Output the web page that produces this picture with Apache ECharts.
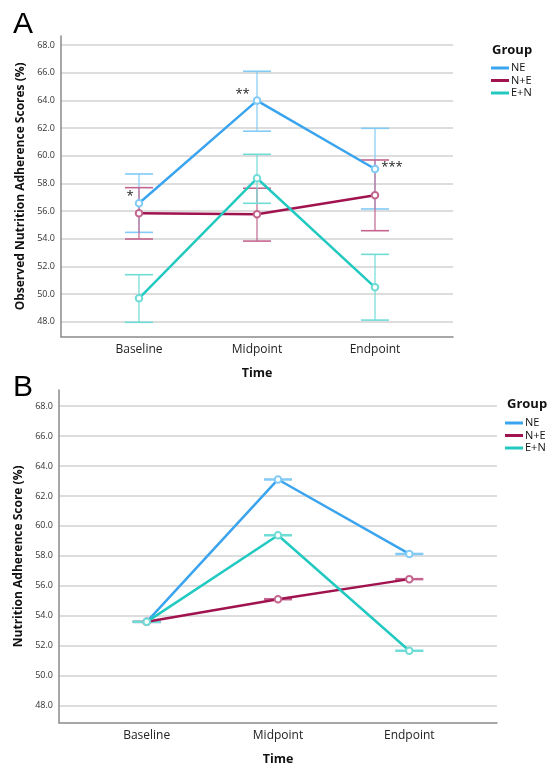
<!DOCTYPE html>
<html>
<head>
<meta charset="utf-8">
<script src="https://cdn.jsdelivr.net/npm/echarts@6/dist/echarts.min.js"></script>
<style>
  html, body { margin: 0; padding: 0; background: #fff; }
  #chart { width: 550px; height: 770px; }
</style>
</head>
<body>
<div id="chart"></div>
<script>
// categories and groups
const timePoints = ['Baseline', 'Midpoint', 'Endpoint'];
const groups = ['NE', 'N+E', 'E+N'];
const yTicks = [48, 50, 52, 54, 56, 58, 60, 62, 64, 66, 68];
const xTicks = [0, 1, 2];

// panel A: observed scores, mean and error bar ends
const obsNE = [56.56, 63.98, 59.04];
const obsNELow = [54.46, 61.77, 56.15];
const obsNEHigh = [58.68, 66.10, 61.98];
const obsNpE = [55.84, 55.77, 57.14];
const obsNpELow = [53.98, 53.83, 54.58];
const obsNpEHigh = [57.69, 57.65, 59.69];
const obsEpN = [49.69, 58.37, 50.49];
const obsEpNLow = [47.96, 56.56, 48.12];
const obsEpNHigh = [51.40, 60.10, 52.87];
const sigMarks = ['*', '**', '***'];

// panel B: model estimates
const estNE = [53.60, 63.10, 58.13];
const estNELow = [53.57, 63.07, 58.10];
const estNEHigh = [53.63, 63.13, 58.16];
const estNpE = [53.60, 55.11, 56.45];
const estNpELow = [53.57, 55.08, 56.42];
const estNpEHigh = [53.63, 55.14, 56.48];
const estEpN = [53.60, 59.38, 51.67];
const estEpNLow = [53.57, 59.35, 51.64];
const estEpNHigh = [53.63, 59.41, 51.70];

const colors = { 'NE': '#3ba4ef', 'N+E': '#a0134f', 'E+N': '#22c9c1' };
const light = { 'NE': '#82cbf6', 'N+E': '#c4658f', 'E+N': '#6fdcd6' };
const font = 'Open Sans';

const markStyle = [
  { position: 'left', distance: 1, offset: [0, -7] },
  { position: 'left', distance: 3, offset: [0, -6] },
  { position: 'right', distance: 2, offset: [0, -2] }
];

function lineSeries(name, values, idx, marks) {
  return {
    type: 'line', name: name, xAxisIndex: idx, yAxisIndex: idx, z: 3,
    data: values.map(function (v, i) {
      const d = { value: [i, v] };
      if (marks) {
        d.label = Object.assign({ show: true, formatter: marks[i], fontSize: 13, color: '#222', fontFamily: font }, markStyle[i]);
      }
      return d;
    }),
    symbol: 'emptyCircle', symbolSize: 6.5,
    itemStyle: { color: light[name], borderWidth: 1.2 },
    lineStyle: { color: colors[name], width: 2.5 },
    emphasis: { disabled: true }
  };
}

function errorSeries(name, lows, highs, idx) {
  return {
    type: 'custom', xAxisIndex: idx, yAxisIndex: idx, z: 2, silent: true,
    data: lows.map(function (lo, i) { return [i, lo, highs[i]]; }),
    encode: { x: 0, y: [1, 2] },
    renderItem: function (params, api) {
      const x = api.value(0);
      const lo = api.coord([x, api.value(1)]);
      const hi = api.coord([x, api.value(2)]);
      const w = 14;
      const c = light[name];
      return {
        type: 'group',
        children: [
          { type: 'line', shape: { x1: lo[0], y1: lo[1], x2: hi[0], y2: hi[1] }, style: { stroke: c, lineWidth: 1.2 } },
          { type: 'line', shape: { x1: lo[0] - w, y1: lo[1], x2: lo[0] + w, y2: lo[1] }, style: { stroke: c, lineWidth: 1.6 } },
          { type: 'line', shape: { x1: hi[0] - w, y1: hi[1], x2: hi[0] + w, y2: hi[1] }, style: { stroke: c, lineWidth: 1.6 } }
        ]
      };
    }
  };
}

function xAxis(idx, min, max) {
  return {
    type: 'value', gridIndex: idx, min: min, max: max,
    name: 'Time', nameLocation: 'middle', nameGap: 30,
    nameTextStyle: { fontSize: 12.5, fontWeight: 'bold', color: '#111', fontFamily: font },
    axisLine: { onZero: false, lineStyle: { color: '#8a8a8a', width: 1.5 } },
    axisTick: { show: false, customValues: xTicks },
    splitLine: { show: false },
    axisLabel: {
      customValues: xTicks, margin: 7, fontSize: 12, color: '#222', fontFamily: font,
      formatter: function (v) { return timePoints[Math.round(v)]; }
    }
  };
}

function yAxis(idx, min, max, title, gap) {
  return {
    type: 'value', gridIndex: idx, min: min, max: max,
    name: title, nameLocation: 'middle', nameRotate: 90, nameGap: gap,
    nameTextStyle: { fontSize: 12, fontWeight: 'bold', color: '#111', fontFamily: font },
    axisLine: { show: true, onZero: false, lineStyle: { color: '#8a8a8a', width: 1.5 } },
    axisTick: { show: false, customValues: yTicks },
    splitLine: { show: true, lineStyle: { color: '#d2d2d2', width: 1.5 } },
    axisLabel: {
      customValues: yTicks, margin: 6, fontSize: 9, color: '#333', fontFamily: font,
      formatter: function (v) { return v.toFixed(1); }
    }
  };
}

function legend(left, top) {
  return {
    orient: 'vertical', left: left, top: top, icon: 'rect',
    itemWidth: 18, itemHeight: 3, itemGap: 0.5,
    textStyle: { fontSize: 11, lineHeight: 12, color: '#111', fontFamily: font, padding: [0, 0, 0, -3] },
    data: groups.map(function (g) { return { name: g, itemStyle: { color: colors[g] } }; }),
    selectedMode: false
  };
}

const chart = echarts.init(document.getElementById('chart'), null, { renderer: 'canvas' });
chart.setOption({
  animation: false,
  backgroundColor: '#fff',
  title: [
    { text: 'A', left: 8, top: 5, textStyle: { fontSize: 30, fontWeight: 'normal', color: '#000', fontFamily: 'Liberation Sans' } },
    { text: 'B', left: 8, top: 368, textStyle: { fontSize: 30, fontWeight: 'normal', color: '#000', fontFamily: 'Liberation Sans' } },
    { text: 'Group', left: 487, top: 39, textStyle: { fontSize: 13, fontWeight: 'bold', color: '#111', fontFamily: font } },
    { text: 'Group', left: 502, top: 393, textStyle: { fontSize: 13, fontWeight: 'bold', color: '#111', fontFamily: font } }
  ],
  legend: [legend(486, 57), legend(500, 412)],
  grid: [
    { left: 61, top: 36, right: 97, bottom: 433.3 },
    { left: 59, top: 390, right: 53, bottom: 47.3 }
  ],
  xAxis: [xAxis(0, -0.661, 2.661), xAxis(1, -0.668, 2.668)],
  yAxis: [
    yAxis(0, 46.92, 68.65, 'Observed Nutrition Adherence Scores (%)', 33),
    yAxis(1, 46.87, 69.07, 'Nutrition Adherence Score (%)', 33)
  ],
  series: [
    errorSeries('NE', obsNELow, obsNEHigh, 0),
    errorSeries('N+E', obsNpELow, obsNpEHigh, 0),
    errorSeries('E+N', obsEpNLow, obsEpNHigh, 0),
    lineSeries('NE', obsNE, 0, sigMarks),
    lineSeries('N+E', obsNpE, 0),
    lineSeries('E+N', obsEpN, 0),
    errorSeries('NE', estNELow, estNEHigh, 1),
    errorSeries('N+E', estNpELow, estNpEHigh, 1),
    errorSeries('E+N', estEpNLow, estEpNHigh, 1),
    lineSeries('NE', estNE, 1),
    lineSeries('N+E', estNpE, 1),
    lineSeries('E+N', estEpN, 1)
  ]
});
</script>
</body>
</html>
